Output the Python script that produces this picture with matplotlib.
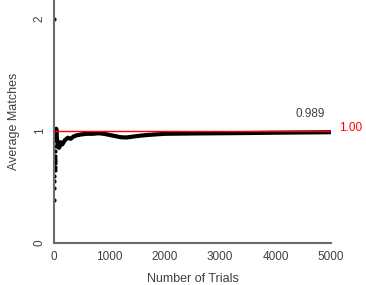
import matplotlib
matplotlib.use("Agg")
import matplotlib.pyplot as plt

plt.rcParams['font.family'] = ['Liberation Sans', 'DejaVu Sans']

# isolated early running-average points
dot_trials = [1, 3, 5, 7, 9, 11, 13, 15, 17, 19, 22, 25, 28, 32]
dot_values = [2.0, 0.38, 0.49, 0.55, 0.60, 0.65, 0.68, 0.71, 0.73, 0.75, 0.78, 0.82, 0.87, 0.92]

# continuous part of the running average
line_trials = [36, 40, 45, 50, 60, 70, 80, 90, 100, 120, 150, 200, 250, 300, 350, 400,
               500, 600, 700, 800, 900, 1000, 1100, 1200, 1300, 1400, 1500, 1700,
               2000, 2500, 3000, 3500, 4000, 4500, 5000]
line_values = [0.97, 1.02, 1.0, 0.95, 0.90, 0.88, 0.86, 0.85, 0.86, 0.90, 0.88, 0.92, 0.94,
               0.93, 0.95, 0.96, 0.97, 0.975, 0.975, 0.98, 0.975, 0.965, 0.955, 0.945,
               0.942, 0.948, 0.955, 0.965, 0.975, 0.978, 0.98, 0.982, 0.985, 0.987, 0.989]

expected = 1.00
final_label = "0.989"
x_ticks = [0, 1000, 2000, 3000, 4000, 5000]
y_ticks = [0, 1, 2]

fig = plt.figure(figsize=(3.66, 2.85), dpi=100)
ax = fig.add_axes([54/366, 42/285, 277/366, 243/285])

ax.axhline(expected, color='#ff0000', lw=1.0, xmin=0, xmax=1, zorder=3)
ax.plot(line_trials, line_values, color='black', lw=3.0, solid_capstyle='butt', zorder=2)
ax.plot(dot_trials, dot_values, 'o', color='black', ms=2.0, zorder=2)

ax.set_xlim(0, 5000)
ax.set_ylim(0, 243/112)
ax.set_xticks(x_ticks)
ax.set_yticks(y_ticks)
ax.tick_params(axis='both', length=0, labelsize=8.5, labelcolor='#404040', pad=6)
for lab in ax.get_yticklabels():
    lab.set_rotation(90)
    lab.set_va('center')
for s in ['top', 'right']:
    ax.spines[s].set_visible(False)
for s in ['left', 'bottom']:
    ax.spines[s].set_color('#6b6b6b')
    ax.spines[s].set_linewidth(1.5)

ax.set_xlabel('Number of Trials', fontsize=9, color='#404040', labelpad=7)
ax.set_ylabel('Average Matches', fontsize=9, color='#404040', labelpad=10)

ax.text(4890, 1.10, final_label, ha='right', va='bottom', fontsize=8.5, color='#404040')
ax.text(5150, 1.03, f"{expected:.2f}", ha='left', va='center', fontsize=8.5,
        color='#ff0000', clip_on=False)

fig.savefig('out.png', dpi=100)
